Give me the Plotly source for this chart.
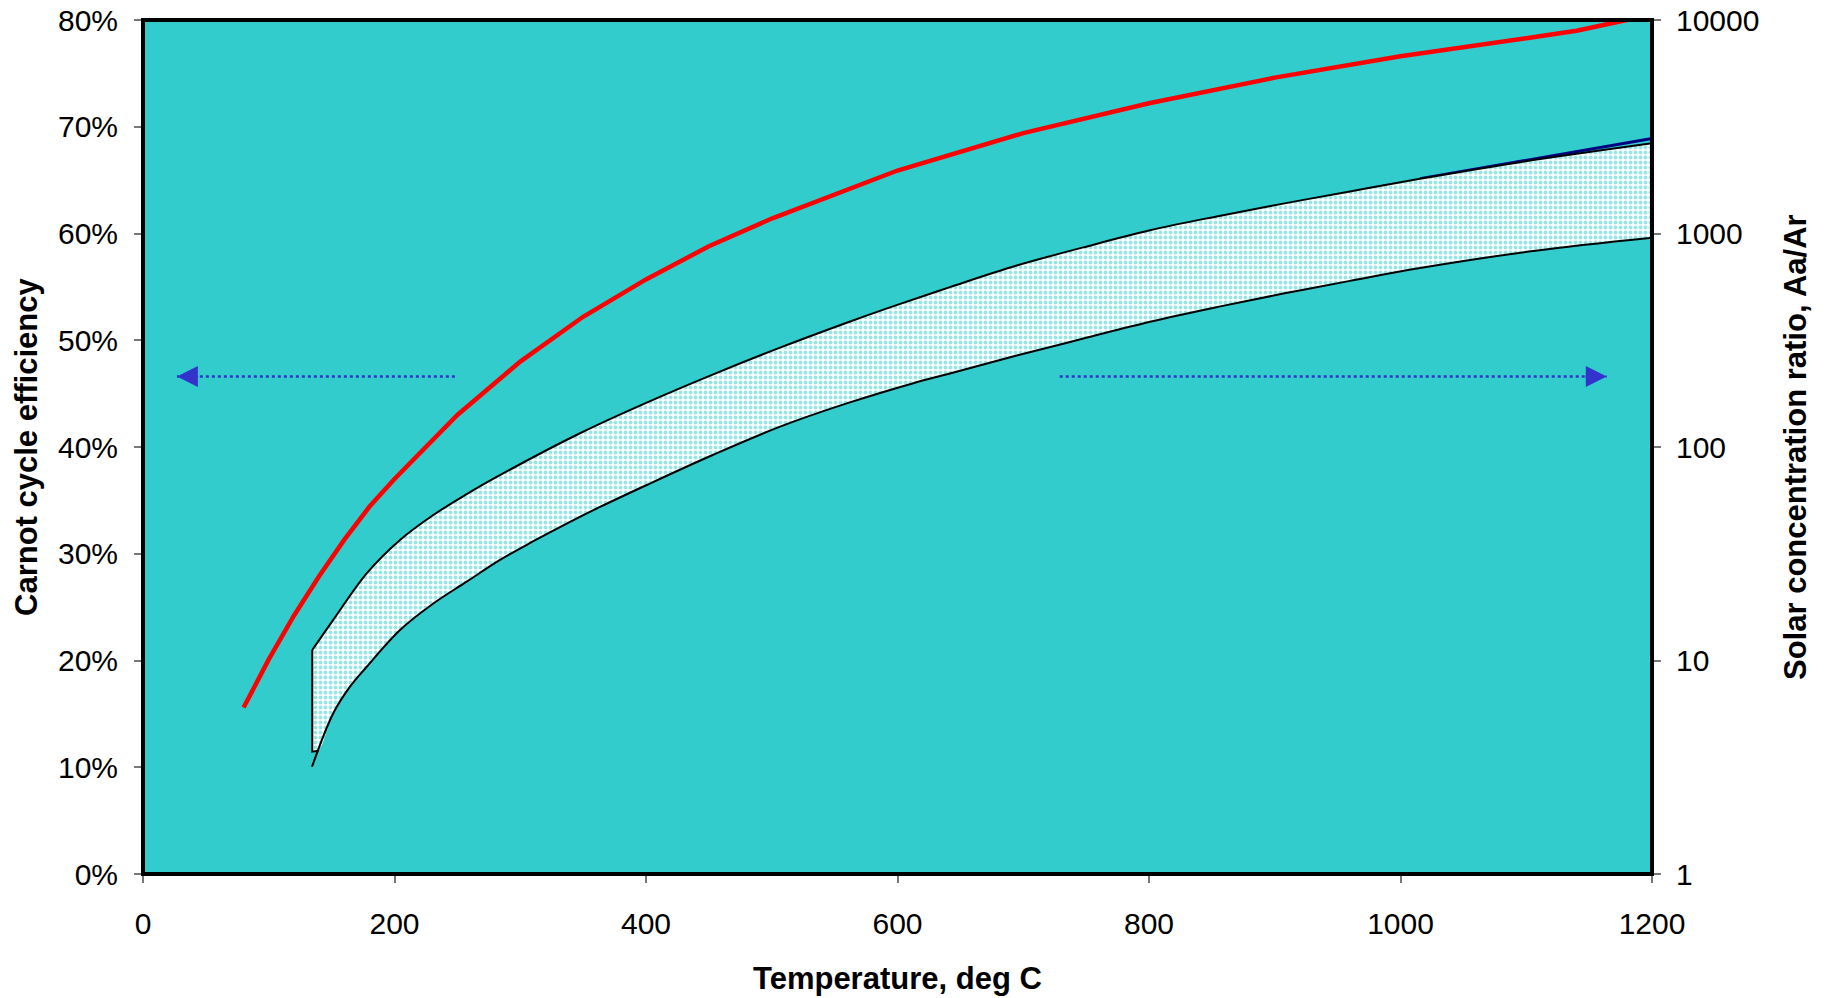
import plotly.graph_objects as go

# ---------------- data ----------------
carnot_T = [80, 90, 100, 120, 140, 160, 180, 200, 250, 300, 350, 400, 450, 500,
            600, 700, 800, 900, 1000, 1100, 1140, 1200]
carnot_eff = [15.6, 17.9, 20.1, 24.2, 27.9, 31.3, 34.4, 37.0, 43.0, 48.0, 52.2, 55.7,
              58.8, 61.4, 65.9, 69.4, 72.2, 74.6, 76.6, 78.3, 79.0, 80.5]

upper_T = [134.6, 151.3, 177.9, 204.4, 230.6, 257.4, 277.3, 347.5, 400.6, 453.5, 506.6,
           559.6, 594, 641.7, 694.8, 747.8, 800.8, 853.8, 906.8, 959.8, 1015.5, 1105.6, 1200]
upper_C = [11.2, 15.5, 25.6, 36.7, 47.9, 60.1, 70.3, 116, 161.5, 219, 292, 382, 451, 561,
           708, 861, 1035, 1202, 1380, 1574, 1803, 2208, 2650]

lower_T = [134.4, 151.3, 164.6, 177.9, 204.4, 230.9, 257.4, 283.9, 310.4, 336.9, 363.4,
           400.6, 453.5, 506.6, 559.6, 612.6, 641.7, 694.8, 747.8, 800.8, 853.8, 906.8,
           959.8, 1015.5, 1105.6, 1200]
lower_C = [3.18, 5.66, 7.54, 9.35, 13.9, 18.5, 23.4, 29.6, 36.2, 43.8, 52.4, 66.4, 92.0,
           124.5, 160, 199, 221, 268, 322, 386, 452, 523, 600, 689, 828, 955]

fill_base_T = [134.6, 139.5]
fill_base_C = [3.74, 3.78]

navy_T = [1015.5, 1105.6, 1200]
navy_C = [1803, 2235, 2790]

zero_T = [0, 134.6]
zero_eff = [0, 0]

eff_ticks = [0, 10, 20, 30, 40, 50, 60, 70, 80]
eff_labels = ["0%", "10%", "20%", "30%", "40%", "50%", "60%", "70%", "80%"]
conc_ticks = [1, 10, 100, 1000, 10000]
conc_labels = ["1", "10", "100", "1000", "10000"]
temp_ticks = [0, 200, 400, 600, 800, 1000, 1200]

arrow_left = dict(tail=248, tip=27, level=46.6)
arrow_right = dict(tail=729, tip=1164, level=46.6)

# ---------------- figure ----------------
FONT = "Liberation Sans, Arial, sans-serif"
TEAL = "#33CCCC"
BLUE = "#3333CC"

fig = go.Figure()

fig.add_trace(go.Scatter(x=navy_T, y=navy_C, yaxis="y2", mode="lines",
                         line=dict(color="#000080", width=3), hoverinfo="skip"))

# lower boundary of the shaded band (invisible), then upper curve filled down to it
fig.add_trace(go.Scatter(x=fill_base_T + lower_T[1:], y=fill_base_C + lower_C[1:],
                         yaxis="y2", mode="lines",
                         line=dict(color="rgba(0,0,0,0)", width=0, shape="spline"),
                         hoverinfo="skip"))
fig.add_trace(go.Scatter(x=upper_T, y=upper_C, yaxis="y2", mode="lines", fill="tonexty",
                         fillcolor="white",
                         fillpattern=dict(shape=".", fgcolor=TEAL, bgcolor="white",
                                          size=5, solidity=0.5),
                         line=dict(color="black", width=2, shape="spline"),
                         hoverinfo="skip"))
fig.add_trace(go.Scatter(x=lower_T, y=lower_C, yaxis="y2", mode="lines",
                         line=dict(color="black", width=2, shape="spline"),
                         hoverinfo="skip"))
# left edge outline of the band
fig.add_trace(go.Scatter(x=[upper_T[0], fill_base_T[0], fill_base_T[1]],
                         y=[upper_C[0], fill_base_C[0], fill_base_C[1]],
                         yaxis="y2", mode="lines", line=dict(color="black", width=2),
                         hoverinfo="skip"))

# Carnot efficiency (left axis)
fig.add_trace(go.Scatter(x=carnot_T, y=carnot_eff, mode="lines",
                         line=dict(color="#FF0000", width=4.5), hoverinfo="skip"))
fig.add_trace(go.Scatter(x=zero_T, y=zero_eff, mode="lines",
                         line=dict(color="black", width=4), hoverinfo="skip"))

# dotted arrows
for a in (arrow_left, arrow_right):
    fig.add_trace(go.Scatter(x=[a["tail"], a["tip"]], y=[a["level"], a["level"]],
                             mode="lines", line=dict(color=BLUE, width=2.5, dash="dot"),
                             hoverinfo="skip"))
    d = 1 if a["tip"] < a["tail"] else -1
    fig.add_annotation(x=a["tip"], y=a["level"], ax=a["tip"] + d * 18, ay=a["level"],
                       xref="x", yref="y", axref="x", ayref="y", text="",
                       showarrow=True, arrowhead=2, arrowsize=1.9, arrowwidth=2.2,
                       arrowcolor=BLUE)

tickfont = dict(family=FONT, size=30, color="black")
titlefont = dict(family=FONT, size=31, color="black")

common = dict(showgrid=False, zeroline=False, ticks="outside", ticklen=8,
              tickcolor="#777777", tickwidth=1.5, showline=True, linecolor="#888888",
              linewidth=1, tickfont=tickfont, ticklabeloverflow="allow",
              automargin=False)

fig.update_layout(
    width=1828, height=998,
    margin=dict(l=143, r=176, t=20, b=124, autoexpand=False),
    paper_bgcolor="white", plot_bgcolor=TEAL,
    showlegend=False,
    xaxis=dict(range=[0, 1200], tickvals=temp_ticks, ticklabelstandoff=15, **common),
    yaxis=dict(range=[0, 80], tickvals=eff_ticks, ticktext=eff_labels,
               ticklabelstandoff=10, **common),
    yaxis2=dict(type="log", range=[0, 4], overlaying="y", side="right",
                tickvals=conc_ticks, ticktext=conc_labels, ticklabelstandoff=9,
                **common),
)

# plot-area black frame
fig.add_shape(type="rect", xref="paper", yref="paper", x0=0, x1=1, y0=0, y1=1,
              line=dict(color="black", width=4), layer="above")

# axis titles
fig.add_annotation(text="<b>Temperature, deg C</b>", xref="paper", yref="paper",
                   x=0.5, y=0, yshift=-104, showarrow=False, font=titlefont,
                   xanchor="center", yanchor="middle")
fig.add_annotation(text="<b>Carnot cycle efficiency</b>", xref="paper", yref="paper",
                   x=0, y=0.5, xshift=-117, showarrow=False, font=titlefont,
                   textangle=-90, xanchor="center", yanchor="middle")
fig.add_annotation(text="<b>Solar concentration ratio, Aa/Ar</b>", xref="paper",
                   yref="paper", x=1, y=0.5, xshift=143, showarrow=False,
                   font=titlefont, textangle=-90, xanchor="center", yanchor="middle")

fig.write_html("out.html",
               config={"displayModeBar": False},
               post_script="document.body.style.margin='0';"
                           "document.body.style.overflow='hidden';")
